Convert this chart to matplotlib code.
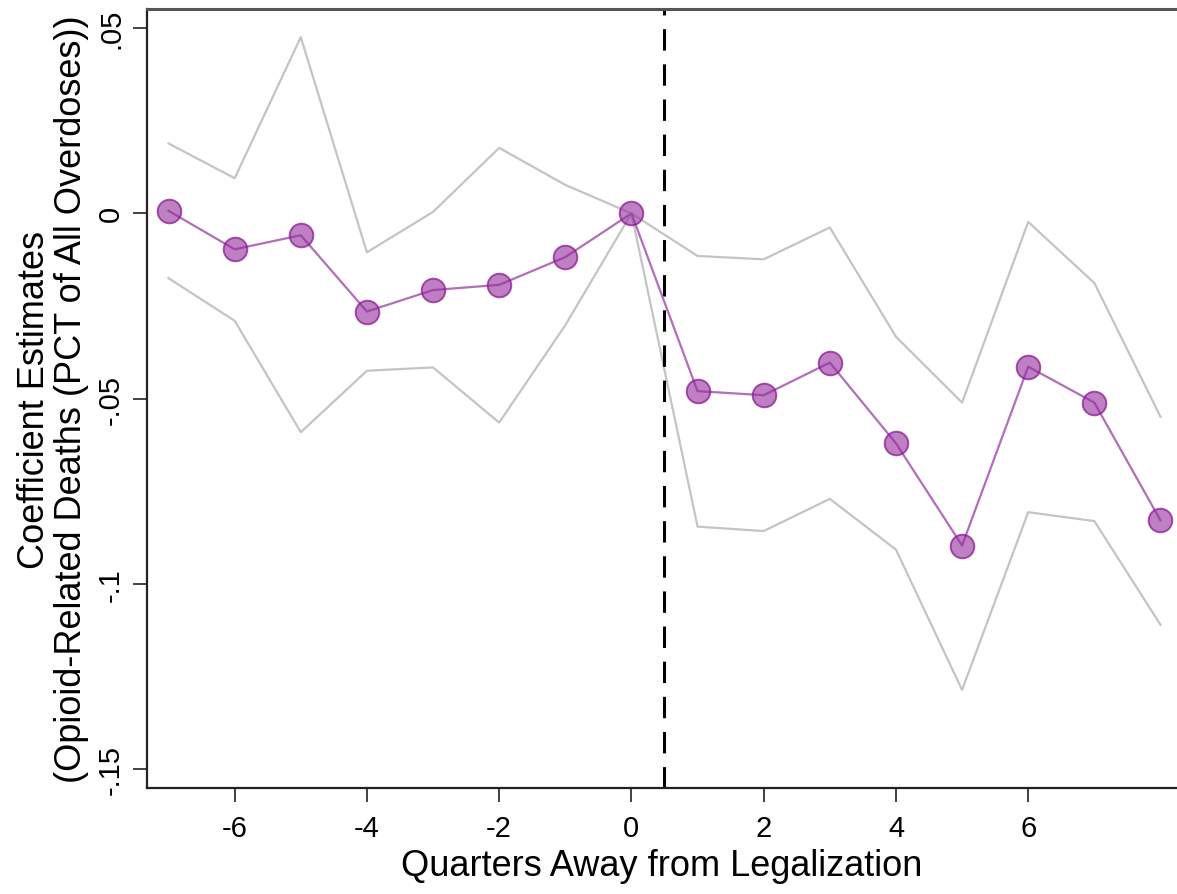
import numpy as np
import matplotlib
matplotlib.use("Agg")
import matplotlib.pyplot as plt

plt.rcParams['font.family'] = ['Liberation Sans', 'DejaVu Sans']

# event-study estimates by quarter relative to legalization
quarters = [-7, -6, -5, -4, -3, -2, -1, 0, 1, 2, 3, 4, 5, 6, 7, 8]
coef = [0.0007, -0.0097, -0.0059, -0.0265, -0.0207, -0.0193, -0.0118, 0.0,
        -0.0480, -0.0491, -0.0403, -0.0621, -0.0897, -0.0414, -0.0511, -0.0829]
ci_upper = [0.0189, 0.0095, 0.0476, -0.0105, 0.0004, 0.0177, 0.0077, 0.0,
            -0.0115, -0.0124, -0.0038, -0.0333, -0.0511, -0.0023, -0.0188, -0.0549]
ci_lower = [-0.0175, -0.0290, -0.0591, -0.0425, -0.0416, -0.0565, -0.0302, 0.0,
            -0.0846, -0.0858, -0.0771, -0.0908, -0.1287, -0.0807, -0.0831, -0.1111]

x_ticks = [-6, -4, -2, 0, 2, 4, 6]
y_ticks = [0.05, 0, -0.05, -0.1, -0.15]
y_tick_labels = ['.05', '0', '-.05', '-.1', '-.15']

fig = plt.figure(figsize=(11.77, 8.95), dpi=100)
ax = fig.add_axes([0.1252, 0.1184, 0.8748, 0.8704])

# confidence bands
ax.plot(quarters, ci_upper, color='#c4c4c4', lw=1.6, zorder=1)
ax.plot(quarters, ci_lower, color='#c4c4c4', lw=1.6, zorder=1)

# legalization cutoff
ax.axvline(0.5, color='black', lw=2.2, linestyle=(0, (7, 4.5)), zorder=2)

# point estimates
ax.plot(quarters, coef, color='#b46cbd', lw=1.6, zorder=3)
ax.plot(quarters, coef, linestyle='none', marker='o', markersize=17,
        markerfacecolor=(0.58, 0.17, 0.61, 0.6), markeredgecolor=(0.55, 0.1, 0.58, 0.75),
        markeredgewidth=1.4, zorder=4)

ax.set_xlim(-7.32, 8.25)
ax.set_ylim(-0.1552, 0.0552)
ax.set_xticks(x_ticks)
ax.set_xticklabels([str(t) for t in x_ticks])
ax.set_yticks(y_ticks)
ax.set_yticklabels(y_tick_labels, rotation=90, va='center')

ax.spines['right'].set_visible(False)
for side in ['left', 'bottom']:
    ax.spines[side].set_color('#222222')
    ax.spines[side].set_linewidth(1.6)
ax.spines['top'].set_color('#555555')
ax.spines['top'].set_linewidth(2.2)

ax.tick_params(axis='both', direction='out', length=10, width=1.3, color='#333333',
               labelsize=21)
ax.tick_params(axis='x', pad=9)
ax.tick_params(axis='y', pad=6)

ax.set_xlabel('Quarters Away from Legalization', fontsize=26, labelpad=4)
ax.set_ylabel('Coefficient Estimates\n(Opioid-Related Deaths (PCT of All Overdoses))',
              fontsize=26, labelpad=6, linespacing=1.05)

fig.savefig('out.png', dpi=100)
